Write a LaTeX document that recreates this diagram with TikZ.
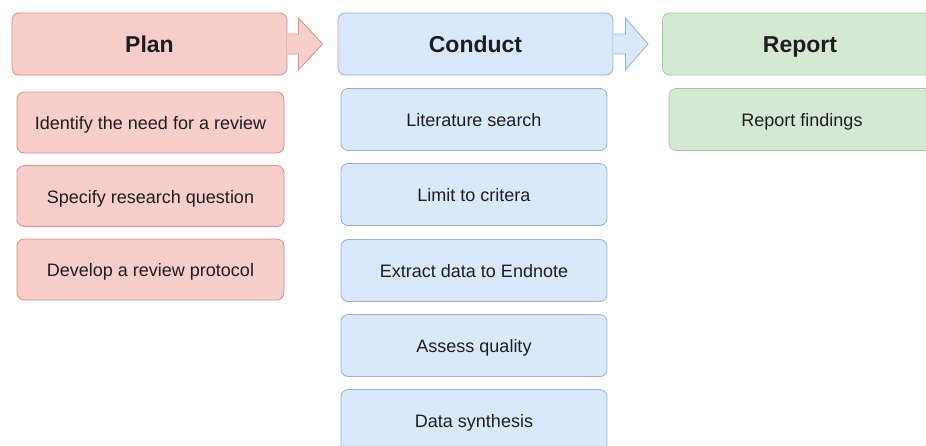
\documentclass[tikz,border=0pt]{standalone}
\usepackage{fontspec}
\setmainfont{Liberation Sans}
\usetikzlibrary{calc}
\definecolor{pinkfill}{HTML}{F8CECC}
\definecolor{pinkline}{HTML}{D39290}
\definecolor{bluefill}{HTML}{DAE8FC}
\definecolor{blueline}{HTML}{96B0D6}
\definecolor{greenfill}{HTML}{D5E8D4}
\definecolor{greenline}{HTML}{A6C79A}
\definecolor{txt}{HTML}{1E1E1E}
\tikzset{
  box/.style={rounded corners=7pt, line width=0.8pt, align=center, text=txt, inner sep=0pt},
  head/.style={box, minimum height=62pt, minimum width=275pt, text height=17pt, text depth=0pt, font=\fontsize{23}{26}\selectfont\bfseries},
  sub/.style={box, minimum height=62pt, minimum width=266pt, text height=14pt, text depth=0pt, font=\fontsize{18}{21}\selectfont},
  pinkbox/.style={fill=pinkfill, draw=pinkline},
  bluebox/.style={fill=bluefill, draw=blueline},
  greenbox/.style={fill=greenfill, draw=greenline},
  blockarrow/.style={line width=0.8pt, line join=miter},
}
\begin{document}
\begin{tikzpicture}[x=1pt, y=-1pt]
\useasboundingbox (0,0) rectangle (926,445);
\clip (0,0) rectangle (926,445);
% headers
\node[head, pinkbox] (plan) at (149.5,44) {Plan};
\node[head, bluebox] (conduct) at (475.5,44) {Conduct};
\node[head, greenbox] (report) at (800,44) {Report};
% plan steps
\node[sub, pinkbox, minimum width=267pt, minimum height=61pt] (p1) at (150.5,122.5) {Identify the need for a review};
\node[sub, pinkbox, minimum width=267pt, minimum height=61pt] (p2) at (150.5,196) {Specify research question};
\node[sub, pinkbox, minimum width=267pt, minimum height=61pt] (p3) at (150.5,269.5) {Develop a review protocol};
% conduct steps
\node[sub, bluebox] (c1) at (474,119.5) {Literature search};
\node[sub, bluebox] (c2) at (474,194.5) {Limit to critera};
\node[sub, bluebox] (c3) at (474,270.5) {Extract data to Endnote};
\node[sub, bluebox] (c4) at (474,345.5) {Assess quality};
\node[sub, bluebox] (c5) at (474,420.5) {Data synthesis};
% report steps
\node[sub, greenbox] (r1) at (802,119.5) {Report findings};
% block arrows
\filldraw[blockarrow, fill=pinkfill, draw=pinkline]
  ($(plan.east)+(0,-10)$) -- ($(plan.east)+(11,-10)$) -- ($(plan.east)+(11,-26)$)
  -- ($(conduct.west)+(-15,0)$)
  -- ($(plan.east)+(11,26)$) -- ($(plan.east)+(11,10)$) -- ($(plan.east)+(0,10)$);
\filldraw[blockarrow, fill=bluefill, draw=blueline]
  ($(conduct.east)+(0,-10)$) -- ($(conduct.east)+(12,-10)$) -- ($(conduct.east)+(12,-26)$)
  -- ($(report.west)+(-14,0)$)
  -- ($(conduct.east)+(12,26)$) -- ($(conduct.east)+(12,10)$) -- ($(conduct.east)+(0,10)$);
\end{tikzpicture}
\end{document}
